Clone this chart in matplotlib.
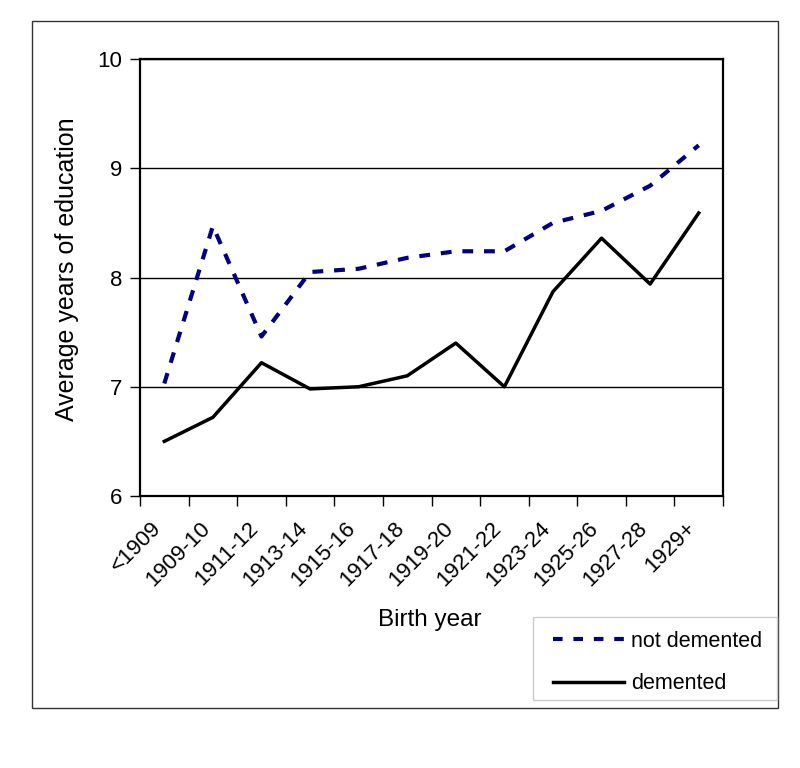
import matplotlib
matplotlib.use("Agg")
import matplotlib.pyplot as plt
import matplotlib.transforms as mtransforms
from matplotlib.patches import Rectangle
from matplotlib.lines import Line2D

categories = ["<1909", "1909-10", "1911-12", "1913-14", "1915-16", "1917-18",
              "1919-20", "1921-22", "1923-24", "1925-26", "1927-28", "1929+"]
not_demented = [7.03, 8.47, 7.46, 8.05, 8.08, 8.18, 8.24, 8.24, 8.50, 8.61, 8.84, 9.21]
demented = [6.50, 6.72, 7.22, 6.98, 7.00, 7.10, 7.40, 7.00, 7.87, 8.36, 7.94, 8.59]

plt.rcParams['font.family'] = ['Liberation Sans', 'DejaVu Sans']

W, H = 800, 768
fig = plt.figure(figsize=(W / 100, H / 100), dpi=100)

# outer chart frame
fig.patches.append(Rectangle((32 / W, 1 - 708 / H), (778 - 32) / W, (708 - 21) / H,
                             transform=fig.transFigure, fill=False,
                             edgecolor='#333333', linewidth=1.0))
# legend frame
fig.patches.append(Rectangle((533 / W, 1 - 700 / H), (777 - 533) / W, (700 - 617) / H,
                             transform=fig.transFigure, fill=True, facecolor='white',
                             edgecolor='#cccccc', linewidth=1.0, zorder=4))

ax = fig.add_axes([140 / W, 1 - 496 / H, (723 - 140) / W, (496 - 59) / H])
x = list(range(len(categories)))
ax.plot(x, not_demented, color='#000080', linewidth=3, linestyle=(0, (2.6, 2.6)),
        label='not demented')
ax.plot(x, demented, color='black', linewidth=2.5, label='demented')

ax.set_xlim(-0.5, len(categories) - 0.5)
ax.set_ylim(6, 10)
ax.set_yticks([6, 7, 8, 9, 10])
ax.set_yticklabels(['6', '7', '8', '9', '10'], fontsize=16)
ax.yaxis.grid(True, color='black', linewidth=1)
ax.set_axisbelow(True)

ax.set_xticks([i - 0.5 for i in range(len(categories) + 1)])
ax.set_xticklabels([])
ax.set_xticks(x, minor=True)
ax.set_xticklabels(categories, minor=True, rotation=45, ha='right', va='center',
                   rotation_mode='anchor', fontsize=16)
ax.tick_params(axis='x', which='minor', length=0, pad=21)
ax.tick_params(axis='x', which='major', length=7, width=1, direction='out')
ax.tick_params(axis='y', length=7, width=1, direction='out', pad=6)
shift = mtransforms.ScaledTranslation(-6 / 100, 0, fig.dpi_scale_trans)
for lbl in ax.get_xticklabels(minor=True):
    lbl.set_transform(lbl.get_transform() + shift)
for s in ax.spines.values():
    s.set_linewidth(1.6)
    s.set_color('black')

ax.set_ylabel('Average years of education', fontsize=18)
ax.yaxis.set_label_coords(-0.105, 0.52)
fig.text(430 / W, 1 - 620 / H, 'Birth year', fontsize=17.5, ha='center', va='center')

handles = [Line2D([], [], color='#000080', linewidth=3, linestyle=(0, (2.3, 2.6))),
           Line2D([], [], color='black', linewidth=2.5)]
leg = fig.legend(handles, ['not demented', 'demented'],
                 loc='upper left',
                 bbox_to_anchor=(542 / W, 1 - 620 / H),
                 fontsize=15.5, handlelength=3.3, handletextpad=0.35,
                 frameon=False, borderaxespad=0, labelspacing=1.0,
                 borderpad=0.5)
leg.set_zorder(5)

fig.savefig('out.png', dpi=100)
